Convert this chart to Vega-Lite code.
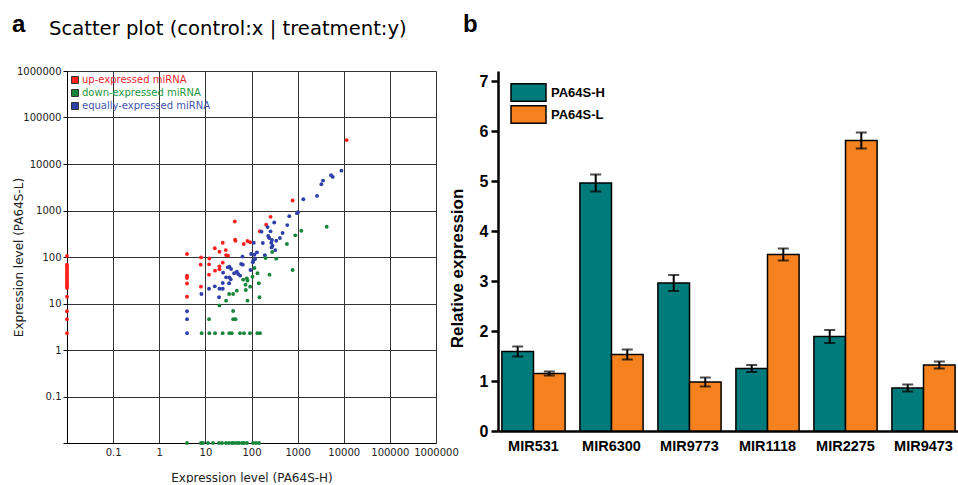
{
  "$schema": "https://vega.github.io/schema/vega-lite/v6.json",
  "background": "white",
  "padding": {"left": 12, "top": 13, "right": 0, "bottom": 0},
  "spacing": -11,
  "title": {
    "text": "a",
    "anchor": "start",
    "frame": "bounds",
    "font": "Liberation Sans",
    "fontSize": 24,
    "fontWeight": "bold",
    "color": "black",
    "offset": -24
  },
  "datasets": {
    "scatter": [
      {"h":0.01,"l":105,"t":"up"},{"h":0.01,"l":68,"t":"up"},{"h":0.01,"l":64,"t":"up"},{"h":0.01,"l":58,"t":"up"},{"h":0.01,"l":53,"t":"up"},{"h":0.01,"l":48,"t":"up"},{"h":0.01,"l":44,"t":"up"},{"h":0.01,"l":40,"t":"up"},{"h":0.01,"l":36,"t":"up"},{"h":0.01,"l":33,"t":"up"},{"h":0.01,"l":30,"t":"up"},{"h":0.01,"l":27,"t":"up"},{"h":0.01,"l":25,"t":"up"},{"h":0.01,"l":23,"t":"up"},{"h":0.01,"l":21.5,"t":"up"},{"h":0.01,"l":14,"t":"up"},{"h":0.01,"l":6.8,"t":"up"},{"h":0.01,"l":4.6,"t":"up"},{"h":0.01,"l":2.3,"t":"up"},
      {"h":11600,"l":32700,"t":"up"},{"h":778,"l":1640,"t":"up"},{"h":259,"l":731,"t":"up"},{"h":208,"l":493,"t":"up"},{"h":43.4,"l":581,"t":"up"},{"h":152,"l":357,"t":"up"},{"h":16,"l":154,"t":"up"},{"h":23.8,"l":203,"t":"up"},{"h":20.2,"l":130,"t":"up"},{"h":27.7,"l":141,"t":"up"},{"h":44.2,"l":236,"t":"up"},{"h":44.9,"l":224,"t":"up"},{"h":68,"l":190,"t":"up"},{"h":81.8,"l":221,"t":"up"},{"h":93.5,"l":207,"t":"up"},{"h":4,"l":116,"t":"up"},{"h":8.05,"l":98,"t":"up"},{"h":28.1,"l":110,"t":"up"},{"h":31.1,"l":107,"t":"up"},{"h":7.9,"l":68.4,"t":"up"},{"h":12,"l":69.5,"t":"up"},{"h":23.8,"l":75.5,"t":"up"},{"h":20.2,"l":63,"t":"up"},{"h":20.2,"l":54.3,"t":"up"},{"h":16.2,"l":50.8,"t":"up"},{"h":12,"l":41.7,"t":"up"},{"h":4,"l":39.6,"t":"up"},{"h":4,"l":35.3,"t":"up"},{"h":4,"l":27,"t":"up"},{"h":8,"l":23,"t":"up"},{"h":4,"l":14,"t":"up"},{"h":12.2,"l":93,"t":"up"},
      {"h":8900,"l":7200,"t":"equal"},{"h":5300,"l":5720,"t":"equal"},{"h":5770,"l":5270,"t":"equal"},{"h":3555,"l":4395,"t":"equal"},{"h":3270,"l":3665,"t":"equal"},{"h":2630,"l":2063,"t":"equal"},{"h":1328,"l":1750,"t":"equal"},{"h":1017,"l":921,"t":"equal"},{"h":968,"l":877,"t":"equal"},{"h":659,"l":756,"t":"equal"},{"h":596,"l":485,"t":"equal"},{"h":311,"l":553,"t":"equal"},{"h":223,"l":440,"t":"equal"},{"h":165,"l":351,"t":"equal"},{"h":259,"l":356,"t":"equal"},{"h":472,"l":328,"t":"equal"},{"h":413,"l":256,"t":"equal"},{"h":230,"l":283,"t":"equal"},{"h":242,"l":256,"t":"equal"},{"h":344,"l":224,"t":"equal"},{"h":286,"l":175,"t":"equal"},{"h":272,"l":161,"t":"equal"},{"h":327,"l":141,"t":"equal"},{"h":176,"l":200,"t":"equal"},{"h":112,"l":203,"t":"equal"},{"h":131,"l":126,"t":"equal"},{"h":116,"l":112,"t":"equal"},{"h":98,"l":116,"t":"equal"},{"h":109,"l":83.4,"t":"equal"},{"h":120,"l":90.6,"t":"equal"},{"h":107,"l":76.8,"t":"equal"},{"h":95,"l":52.5,"t":"equal"},{"h":63.7,"l":102,"t":"equal"},{"h":59.6,"l":70.7,"t":"equal"},{"h":64.8,"l":68.4,"t":"equal"},{"h":48,"l":48.4,"t":"equal"},{"h":42,"l":44.6,"t":"equal"},{"h":51.3,"l":43.1,"t":"equal"},{"h":56.7,"l":39.7,"t":"equal"},{"h":33.2,"l":62,"t":"equal"},{"h":30.6,"l":60,"t":"equal"},{"h":36.1,"l":55.2,"t":"equal"},{"h":24.2,"l":46,"t":"equal"},{"h":28.1,"l":36.5,"t":"equal"},{"h":33.2,"l":36.5,"t":"equal"},{"h":35.5,"l":33.1,"t":"equal"},{"h":23.8,"l":27.6,"t":"equal"},{"h":32.7,"l":27.2,"t":"equal"},{"h":12,"l":20.8,"t":"equal"},{"h":16,"l":23.4,"t":"equal"},{"h":20.2,"l":20.8,"t":"equal"},{"h":23.8,"l":20.8,"t":"equal"},{"h":19.8,"l":13.6,"t":"equal"},{"h":4,"l":6.8,"t":"equal"},{"h":4,"l":4.6,"t":"equal"},{"h":4,"l":2.3,"t":"equal"},{"h":195,"l":109,"t":"equal"},{"h":277,"l":232,"t":"equal"},{"h":268,"l":203,"t":"equal"},{"h":8.2,"l":16,"t":"equal"},
      {"h":4270,"l":447,"t":"down"},{"h":1202,"l":366,"t":"down"},{"h":890,"l":292,"t":"down"},{"h":586,"l":190,"t":"down"},{"h":281,"l":128,"t":"down"},{"h":344,"l":92,"t":"down"},{"h":202,"l":95,"t":"down"},{"h":778,"l":52.5,"t":"down"},{"h":246,"l":41.7,"t":"down"},{"h":116,"l":58,"t":"down"},{"h":135,"l":44.6,"t":"down"},{"h":105,"l":37.8,"t":"down"},{"h":79.2,"l":34.8,"t":"down"},{"h":81.8,"l":31,"t":"down"},{"h":65.9,"l":32.6,"t":"down"},{"h":74.1,"l":25.4,"t":"down"},{"h":75.3,"l":19.5,"t":"down"},{"h":93.5,"l":23,"t":"down"},{"h":144,"l":27.2,"t":"down"},{"h":149,"l":13.6,"t":"down"},{"h":81.8,"l":11.5,"t":"down"},{"h":48,"l":18.9,"t":"down"},{"h":40,"l":16,"t":"down"},{"h":32.7,"l":16,"t":"down"},{"h":28.1,"l":11.5,"t":"down"},{"h":20.2,"l":9.1,"t":"down"},{"h":40,"l":6.9,"t":"down"},{"h":40,"l":4.6,"t":"down"},{"h":44.9,"l":4.6,"t":"down"},{"h":12,"l":4.6,"t":"down"},
      {"h":8.3,"l":2.3,"t":"down"},{"h":12.2,"l":2.3,"t":"down"},{"h":16.2,"l":2.3,"t":"down"},{"h":23.7,"l":2.3,"t":"down"},{"h":33,"l":2.3,"t":"down"},{"h":37.2,"l":2.3,"t":"down"},{"h":56.3,"l":2.3,"t":"down"},{"h":68.8,"l":2.3,"t":"down"},{"h":92.7,"l":2.3,"t":"down"},{"h":134,"l":2.3,"t":"down"},{"h":153,"l":2.3,"t":"down"},
      {"h":4,"l":0.01,"t":"down"},{"h":8,"l":0.01,"t":"down"},{"h":8.9,"l":0.01,"t":"down"},{"h":11.4,"l":0.01,"t":"down"},{"h":14.6,"l":0.01,"t":"down"},{"h":19.7,"l":0.01,"t":"down"},{"h":22.9,"l":0.01,"t":"down"},{"h":28,"l":0.01,"t":"down"},{"h":32.5,"l":0.01,"t":"down"},{"h":37.8,"l":0.01,"t":"down"},{"h":41.7,"l":0.01,"t":"down"},{"h":48.4,"l":0.01,"t":"down"},{"h":53.6,"l":0.01,"t":"down"},{"h":62.2,"l":0.01,"t":"down"},{"h":68.8,"l":0.01,"t":"down"},{"h":79.8,"l":0.01,"t":"down"},{"h":108,"l":0.01,"t":"down"},{"h":125,"l":0.01,"t":"down"},{"h":146,"l":0.01,"t":"down"}
    ],
    "bars": [
      {"mir":"MIR531","g":"PA64S-H","v":1.59,"lo":1.49,"hi":1.69},
      {"mir":"MIR531","g":"PA64S-L","v":1.15,"lo":1.11,"hi":1.19},
      {"mir":"MIR6300","g":"PA64S-H","v":4.96,"lo":4.79,"hi":5.13},
      {"mir":"MIR6300","g":"PA64S-L","v":1.53,"lo":1.43,"hi":1.63},
      {"mir":"MIR9773","g":"PA64S-H","v":2.96,"lo":2.8,"hi":3.12},
      {"mir":"MIR9773","g":"PA64S-L","v":0.98,"lo":0.89,"hi":1.07},
      {"mir":"MIR1118","g":"PA64S-H","v":1.25,"lo":1.18,"hi":1.32},
      {"mir":"MIR1118","g":"PA64S-L","v":3.53,"lo":3.41,"hi":3.65},
      {"mir":"MIR2275","g":"PA64S-H","v":1.89,"lo":1.76,"hi":2.02},
      {"mir":"MIR2275","g":"PA64S-L","v":5.81,"lo":5.65,"hi":5.97},
      {"mir":"MIR9473","g":"PA64S-H","v":0.86,"lo":0.79,"hi":0.93},
      {"mir":"MIR9473","g":"PA64S-L","v":1.32,"lo":1.25,"hi":1.39}
    ]
  },
  "hconcat": [
    {
      "width": 369,
      "height": 372,
      "title": {
        "text": "Scatter plot (control:x | treatment:y)",
        "anchor": "start",
        "frame": "bounds",
        "dx": 37,
        "font": "DejaVu Sans",
        "fontSize": 19.6,
        "fontWeight": "normal",
        "color": "black",
        "offset": 26.5
      },
      "data": {"name": "scatter"},
      "mark": {"type": "circle", "size": 15, "opacity": 1, "clip": false},
      "encoding": {
        "x": {
          "field": "h", "type": "quantitative",
          "scale": {"type": "log", "domain": [0.01, 1000000], "nice": false},
          "axis": {
            "values": [0.01, 0.1, 1, 10, 100, 1000, 10000, 100000, 1000000],
            "labelExpr": "datum.value < 0.05 ? '' : format(datum.value, '~f')",
            "grid": true, "gridColor": "#333333", "gridWidth": 1,
            "ticks": false,
            "domainColor": "black", "domainWidth": 1,
            "labelFont": "DejaVu Sans", "labelFontSize": 10, "labelColor": "#222222",
            "labelPadding": 4, "labelFlush": false, "labelOverlap": false,
            "title": "Expression level (PA64S-H)",
            "titleFont": "DejaVu Sans", "titleFontSize": 12, "titleFontWeight": "normal", "titleColor": "#222222",
            "titlePadding": 15
          }
        },
        "y": {
          "field": "l", "type": "quantitative",
          "scale": {"type": "log", "domain": [0.01, 1000000], "nice": false},
          "axis": {
            "values": [0.01, 0.1, 1, 10, 100, 1000, 10000, 100000, 1000000],
            "labelExpr": "datum.value < 0.05 ? '' : format(datum.value, '~f')",
            "grid": true, "gridColor": "#333333", "gridWidth": 1,
            "tickSize": 4, "tickColor": "black",
            "domainColor": "black", "domainWidth": 1,
            "labelFont": "DejaVu Sans", "labelFontSize": 10, "labelColor": "#222222",
            "labelPadding": 2, "labelFlush": false, "labelOverlap": false,
            "title": "Expression level (PA64S-L)",
            "titleFont": "DejaVu Sans", "titleFontSize": 12, "titleFontWeight": "normal", "titleColor": "#222222",
            "titleX": -49, "titleY": 186, "titleBaseline": "middle"
          }
        },
        "color": {
          "field": "t", "type": "nominal",
          "scale": {"domain": ["up", "down", "equal"], "range": ["#FF1E1E", "#17863A", "#2E3FA8"]},
          "legend": {
            "orient": "none", "legendX": 3, "legendY": 4,
            "title": null,
            "symbolType": "square", "symbolSize": 49,
            "symbolStrokeColor": "#333333", "symbolStrokeWidth": 1, "symbolOpacity": 1,
            "labelFont": "DejaVu Sans", "labelFontSize": 10, "labelOffset": 2,
            "rowPadding": 1,
            "labelExpr": "datum.value == 'up' ? 'up-expressed miRNA' : datum.value == 'down' ? 'down-expressed miRNA' : 'equally-expressed miRNA'",
            "encode": {
              "labels": {"update": {"fill": {"signal": "datum.value == 'up' ? '#E8262A' : datum.value == 'down' ? '#22953F' : '#4654AE'"}}}
            }
          }
        }
      }
    },
    {
      "width": 461,
      "height": 360,
      "title": {
        "text": "b",
        "anchor": "start",
        "frame": "bounds",
        "font": "Liberation Sans",
        "fontSize": 24,
        "fontWeight": "bold",
        "color": "black",
        "dx": 15,
        "offset": 34
      },
      "data": {"name": "bars"},
      "encoding": {
        "x": {
          "field": "mir", "type": "nominal", "sort": null,
          "scale": {"paddingInner": 0.19, "paddingOuter": 0.05},
          "axis": {
            "title": null, "ticks": false,
            "domainWidth": 2.5, "domainColor": "black",
            "labelFont": "Liberation Sans", "labelFontWeight": "bold", "labelFontSize": 14.5,
            "labelColor": "black", "labelPadding": 8, "labelAngle": 0
          }
        },
        "xOffset": {"field": "g", "type": "nominal", "sort": ["PA64S-H", "PA64S-L"]}
      },
      "layer": [
        {
          "mark": {"type": "bar", "stroke": "black", "strokeWidth": 1.5},
          "encoding": {
            "y": {
              "field": "v", "type": "quantitative",
              "title": "Relative expression",
              "scale": {"domain": [0, 7.2], "nice": false},
              "axis": {
                "values": [0, 0.5, 1, 1.5, 2, 2.5, 3, 3.5, 4, 4.5, 5, 5.5, 6, 6.5, 7],
                "labelExpr": "datum.value % 1 === 0 ? datum.label : ''",
                "tickSize": {"condition": {"test": "datum.value % 1 === 0", "value": 7}, "value": 4},
                "tickWidth": 2.5, "tickColor": "black",
                "domainWidth": 2.5, "domainColor": "black",
                "grid": false,
                "labelFont": "Liberation Sans", "labelFontWeight": "bold", "labelFontSize": 16,
                "labelColor": "black", "labelPadding": 3, "labelFlush": false,
                "titleFont": "Liberation Sans", "titleFontSize": 17, "titleFontWeight": "bold",
                "titleColor": "black", "titleX": -41, "titleY": 197, "titleBaseline": "middle"
              }
            },
            "color": {
              "field": "g", "type": "nominal",
              "scale": {"domain": ["PA64S-H", "PA64S-L"], "range": ["#007B7B", "#F5821F"]},
              "legend": {
                "orient": "none", "legendX": 21, "legendY": 12,
                "title": null,
                "symbolType": "M-2,-1H2V1H-2Z", "symbolSize": 306,
                "symbolStrokeColor": "black", "symbolStrokeWidth": 1.5,
                "labelFont": "Liberation Sans", "labelFontWeight": "bold", "labelFontSize": 13,
                "labelColor": "black", "labelOffset": 13, "rowPadding": -10
              }
            }
          }
        },
        {
          "mark": {"type": "rule", "color": "black", "strokeWidth": 2},
          "encoding": {
            "y": {"field": "lo", "type": "quantitative", "title": "Relative expression"},
            "y2": {"field": "hi"}
          }
        },
        {
          "mark": {"type": "tick", "color": "black", "thickness": 2, "size": 11},
          "encoding": {
            "y": {"field": "lo", "type": "quantitative", "title": "Relative expression"}
          }
        },
        {
          "mark": {"type": "tick", "color": "black", "thickness": 2, "size": 11},
          "encoding": {
            "y": {"field": "hi", "type": "quantitative", "title": "Relative expression"}
          }
        }
      ]
    }
  ],
  "resolve": {"scale": {"color": "independent"}, "legend": {"color": "independent"}},
  "config": {"view": {"stroke": null}}
}
